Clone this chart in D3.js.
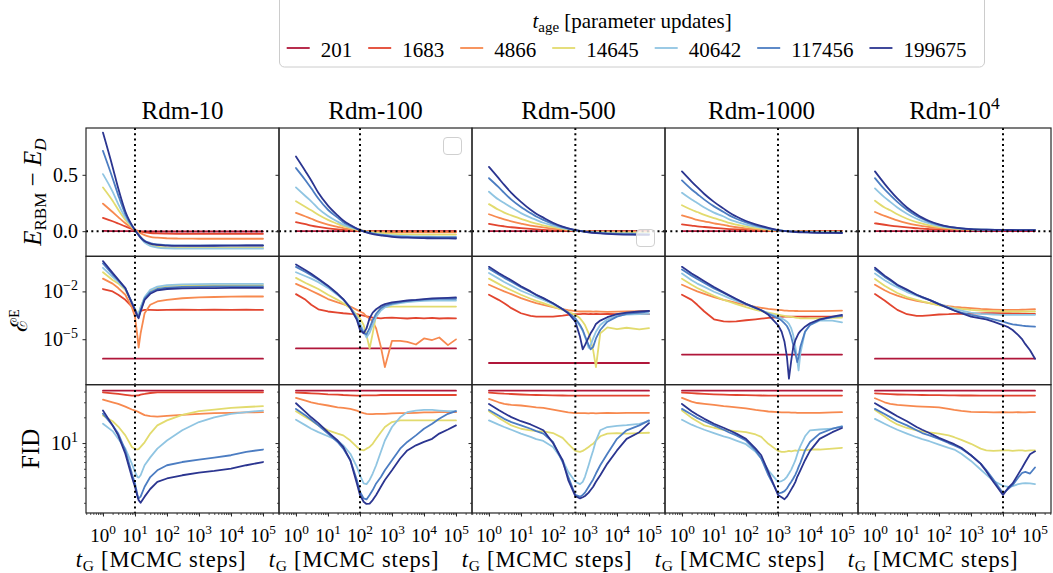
<!DOCTYPE html>
<html>
<head>
<meta charset="utf-8">
<script src="https://cdn.jsdelivr.net/npm/d3@7"></script>
<style>
  html, body { margin: 0; padding: 0; background: #fff; }
  svg { display: block; }
  text { font-family: "Liberation Serif", "Times New Roman", "DejaVu Serif", serif; fill: #000; }
</style>
</head>
<body>
<svg id="chart" width="1053" height="573"></svg>
<script>
// ---------------- data ----------------
// model age (parameter updates) and its line colour
const ages = [201, 1683, 4866, 14645, 40642, 117456, 199675];
const ageColors = ["#b0173a", "#e2452f", "#f7894f", "#e2db6e", "#90c5e2", "#4c7dc2", "#2b3590"];

// dataset names (base, optional exponent) and the training MCMC length t* of each
const datasetBase = ["Rdm-10", "Rdm-100", "Rdm-500", "Rdm-1000", "Rdm-10"];
const datasetExp  = ["", "", "", "", "4"];
const trainSteps  = [10, 100, 500, 1000, 10000];

// energy gap E_RBM - E_D, sampled at these MCMC steps (rows = ages)
const energySteps = [1, 2, 3, 5, 10, 20, 30, 50, 100, 200, 500, 1000, 3000, 10000, 30000, 100000];

const energy_rdm10 = [
  [0.002, 0.001, 0.001, 0.0, 0.0, -0.002, -0.003, -0.003, -0.003, -0.003, -0.003, -0.003, -0.003, -0.003, -0.003, -0.003],
  [0.118, 0.088, 0.068, 0.042, 0.01, -0.01, -0.016, -0.02, -0.022, -0.023, -0.023, -0.023, -0.023, -0.023, -0.023, -0.023],
  [0.244, 0.17, 0.125, 0.07, 0.01, -0.035, -0.05, -0.058, -0.063, -0.065, -0.066, -0.067, -0.067, -0.067, -0.067, -0.067],
  [0.388, 0.27, 0.19, 0.10, 0.01, -0.09, -0.12, -0.138, -0.145, -0.147, -0.148, -0.148, -0.148, -0.147, -0.147, -0.147],
  [0.506, 0.35, 0.24, 0.12, 0.01, -0.10, -0.13, -0.145, -0.152, -0.154, -0.155, -0.155, -0.155, -0.155, -0.155, -0.155],
  [0.712, 0.47, 0.32, 0.15, 0.01, -0.085, -0.105, -0.118, -0.124, -0.126, -0.127, -0.127, -0.127, -0.126, -0.126, -0.126],
  [0.874, 0.57, 0.38, 0.175, 0.01, -0.09, -0.11, -0.122, -0.128, -0.13, -0.13, -0.13, -0.129, -0.128, -0.127, -0.127]
];
const energy_rdm100 = [
  [0.0, 0.0, 0.0, 0.0, 0.0, 0.0, 0.0, 0.0, 0.0, 0.0, 0.0, 0.0, 0.0, 0.0, 0.0, 0.0],
  [0.08, 0.062, 0.05, 0.038, 0.025, 0.016, 0.012, 0.008, 0.004, 0.001, -0.001, -0.002, -0.002, -0.002, -0.002, -0.002],
  [0.162, 0.13, 0.11, 0.085, 0.058, 0.038, 0.027, 0.017, 0.006, -0.002, -0.006, -0.008, -0.01, -0.01, -0.01, -0.01],
  [0.265, 0.215, 0.185, 0.145, 0.10, 0.065, 0.045, 0.027, 0.008, -0.008, -0.018, -0.024, -0.028, -0.03, -0.03, -0.03],
  [0.388, 0.31, 0.265, 0.20, 0.135, 0.085, 0.058, 0.035, 0.01, -0.013, -0.03, -0.038, -0.045, -0.048, -0.05, -0.05],
  [0.56, 0.45, 0.38, 0.29, 0.19, 0.12, 0.08, 0.047, 0.01, -0.016, -0.034, -0.043, -0.05, -0.053, -0.055, -0.055],
  [0.662, 0.53, 0.45, 0.34, 0.227, 0.14, 0.095, 0.055, 0.01, -0.02, -0.04, -0.05, -0.058, -0.062, -0.064, -0.065]
];
const energy_rdm500 = [
  [0.0, 0.0, 0.0, 0.0, 0.0, 0.0, 0.0, 0.0, 0.0, 0.0, 0.0, 0.0, 0.0, 0.0, 0.0, 0.0],
  [0.065, 0.05, 0.043, 0.035, 0.027, 0.02, 0.016, 0.012, 0.008, 0.005, 0.002, 0.0, -0.001, -0.001, -0.001, -0.001],
  [0.15, 0.12, 0.105, 0.088, 0.068, 0.05, 0.042, 0.033, 0.022, 0.013, 0.004, 0.0, -0.004, -0.005, -0.006, -0.006],
  [0.24, 0.19, 0.165, 0.14, 0.11, 0.08, 0.066, 0.052, 0.035, 0.02, 0.006, -0.002, -0.008, -0.012, -0.013, -0.013],
  [0.35, 0.28, 0.25, 0.21, 0.16, 0.12, 0.10, 0.075, 0.05, 0.028, 0.008, -0.003, -0.013, -0.019, -0.021, -0.022],
  [0.47, 0.39, 0.34, 0.28, 0.215, 0.16, 0.13, 0.10, 0.065, 0.035, 0.01, -0.004, -0.017, -0.024, -0.027, -0.028],
  [0.57, 0.47, 0.41, 0.34, 0.26, 0.19, 0.155, 0.12, 0.075, 0.04, 0.01, -0.005, -0.02, -0.028, -0.031, -0.032]
];
const energy_rdm1000 = [
  [0.0, 0.0, 0.0, 0.0, 0.0, 0.0, 0.0, 0.0, 0.0, 0.0, 0.0, 0.0, 0.0, 0.0, 0.0, 0.0],
  [0.06, 0.05, 0.043, 0.037, 0.03, 0.023, 0.019, 0.015, 0.011, 0.008, 0.004, 0.002, 0.001, 0.0, 0.0, 0.0],
  [0.14, 0.115, 0.10, 0.088, 0.07, 0.055, 0.045, 0.035, 0.025, 0.017, 0.009, 0.003, 0.0, -0.002, -0.003, -0.003],
  [0.23, 0.19, 0.17, 0.145, 0.115, 0.09, 0.073, 0.058, 0.041, 0.028, 0.014, 0.005, -0.002, -0.005, -0.006, -0.007],
  [0.34, 0.28, 0.25, 0.21, 0.165, 0.13, 0.105, 0.083, 0.059, 0.04, 0.02, 0.007, -0.003, -0.008, -0.01, -0.011],
  [0.45, 0.37, 0.33, 0.28, 0.22, 0.17, 0.14, 0.11, 0.078, 0.052, 0.026, 0.009, -0.004, -0.01, -0.013, -0.014],
  [0.53, 0.44, 0.39, 0.33, 0.26, 0.20, 0.165, 0.13, 0.09, 0.06, 0.03, 0.01, -0.005, -0.012, -0.015, -0.016]
];
const energy_rdm10k = [
  [0.0, 0.0, 0.0, 0.0, 0.0, 0.0, 0.0, 0.0, 0.0, 0.0, 0.0, 0.0, 0.0, 0.0, 0.0, 0.0],
  [0.07, 0.057, 0.05, 0.042, 0.033, 0.026, 0.022, 0.019, 0.016, 0.014, 0.013, 0.012, 0.012, 0.012, 0.012, 0.012],
  [0.17, 0.135, 0.118, 0.096, 0.072, 0.054, 0.045, 0.037, 0.028, 0.021, 0.016, 0.014, 0.012, 0.011, 0.011, 0.011],
  [0.27, 0.21, 0.185, 0.15, 0.11, 0.08, 0.066, 0.052, 0.037, 0.027, 0.019, 0.015, 0.012, 0.011, 0.01, 0.01],
  [0.38, 0.30, 0.26, 0.21, 0.155, 0.11, 0.09, 0.07, 0.048, 0.033, 0.022, 0.017, 0.013, 0.011, 0.01, 0.01],
  [0.47, 0.37, 0.32, 0.26, 0.19, 0.135, 0.11, 0.083, 0.056, 0.038, 0.024, 0.018, 0.013, 0.011, 0.01, 0.01],
  [0.53, 0.42, 0.36, 0.29, 0.21, 0.15, 0.12, 0.09, 0.06, 0.04, 0.025, 0.018, 0.013, 0.011, 0.01, 0.009]
];

// energy error and FID, each dataset with its own MCMC step grid.
// error values are stored as log10 of the error.
const steps_rdm10 = [1, 2, 3, 5, 8, 10, 12, 13, 15, 20, 30, 50, 100, 300, 1000, 3000, 10000, 30000, 100000];
const logErr_rdm10 = [
  [-6.22, -6.22, -6.22, -6.22, -6.22, -6.22, -6.22, -6.22, -6.22, -6.22, -6.22, -6.22, -6.22, -6.22, -6.22, -6.22, -6.22, -6.22, -6.22],
  [-1.85, -2.0, -2.21, -2.53, -2.95, -3.26, -3.47, -3.37, -3.22, -3.16, -3.16, -3.17, -3.16, -3.15, -3.16, -3.15, -3.16, -3.15, -3.16],
  [-1.20, -1.51, -1.79, -2.21, -3.0, -3.58, -4.85, -5.52, -4.63, -3.37, -2.84, -2.63, -2.53, -2.43, -2.38, -2.35, -2.33, -2.32, -2.32],
  [-0.80, -1.28, -1.5, -1.9, -2.7, -3.1, -3.4, -3.4, -3.0, -2.4, -1.95, -1.75, -1.65, -1.62, -1.6, -1.6, -1.6, -1.6, -1.6],
  [-0.52, -1.09, -1.4, -1.85, -2.7, -3.1, -3.4, -3.4, -3.0, -2.35, -1.9, -1.7, -1.6, -1.56, -1.54, -1.53, -1.53, -1.53, -1.53],
  [-0.25, -0.94, -1.3, -1.8, -2.7, -3.15, -3.5, -3.6, -3.2, -2.45, -2.05, -1.85, -1.76, -1.72, -1.70, -1.69, -1.68, -1.68, -1.68],
  [-0.10, -0.84, -1.26, -1.79, -2.74, -3.16, -3.58, -3.69, -3.26, -2.53, -2.15, -1.93, -1.85, -1.81, -1.79, -1.79, -1.78, -1.78, -1.78]
];
const fid_rdm10 = [
  [41.0, 41.0, 41.0, 41.0, 41.0, 41.0, 41.0, 41.0, 41.0, 41.0, 41.0, 41.0, 41.0, 41.0, 41.0, 41.0, 41.0, 41.0, 41.0],
  [39.2, 38.2, 37.5, 36.6, 35.9, 35.9, 36.2, 36.2, 36.9, 37.5, 38.5, 39.2, 39.2, 39.2, 39.2, 39.2, 39.2, 39.2, 39.2],
  [32.2, 30.0, 28.7, 26.7, 24.7, 24.0, 23.4, 23.0, 22.4, 21.2, 20.6, 20.4, 20.8, 21.4, 22.0, 22.4, 22.6, 22.8, 23.0],
  [21.0, 18.0, 15.6, 12.3, 9.0, 8.5, 8.45, 8.5, 9.0, 10.2, 12.9, 16.1, 18.4, 21.4, 23.6, 24.6, 25.8, 26.4, 27.0],
  [16.8, 13.8, 11.2, 8.6, 5.75, 4.6, 4.0, 3.95, 4.2, 5.5, 6.8, 8.6, 10.7, 14.1, 17.6, 20.0, 22.0, 23.0, 24.0],
  [22.0, 16.1, 12.9, 8.2, 4.4, 3.37, 2.47, 2.25, 2.36, 3.08, 4.0, 4.8, 5.5, 6.0, 6.4, 6.76, 7.2, 7.9, 8.4],
  [24.0, 16.1, 12.3, 7.5, 4.0, 3.08, 2.36, 2.15, 2.0, 2.36, 2.9, 3.52, 3.85, 4.2, 4.5, 4.72, 5.03, 5.5, 6.0]
];

const steps_rdm100 = [1, 2, 3, 5, 10, 20, 30, 50, 80, 100, 130, 160, 200, 250, 320, 450, 600, 1000, 1800, 3000, 5600, 10000, 18000, 30000, 56000, 100000];
const logErr_rdm100 = [
  [-5.58, -5.58, -5.58, -5.58, -5.58, -5.58, -5.58, -5.58, -5.58, -5.58, -5.58, -5.58, -5.58, -5.58, -5.58, -5.58, -5.58, -5.58, -5.58, -5.58, -5.58, -5.58, -5.58, -5.58, -5.58, -5.58],
  [-2.17, -2.53, -2.84, -3.12, -3.26, -3.33, -3.37, -3.41, -3.43, -3.47, -3.52, -3.56, -3.60, -3.64, -3.66, -3.69, -3.66, -3.64, -3.67, -3.70, -3.66, -3.69, -3.66, -3.70, -3.68, -3.69],
  [-1.53, -1.79, -1.96, -2.17, -2.48, -2.69, -2.80, -2.95, -3.16, -3.26, -3.37, -3.58, -3.69, -3.90, -4.32, -5.48, -6.75, -5.10, -5.10, -5.16, -5.33, -4.95, -5.05, -4.89, -5.37, -5.01],
  [-1.15, -1.47, -1.64, -1.85, -2.21, -2.53, -2.74, -3.05, -3.47, -3.69, -4.11, -4.74, -5.58, -4.63, -3.47, -3.05, -2.99, -2.95, -2.95, -2.95, -2.95, -2.95, -2.95, -2.95, -2.95, -2.95],
  [-0.80, -1.05, -1.20, -1.42, -1.78, -2.22, -2.52, -3.0, -3.6, -4.0, -4.5, -4.89, -4.6, -4.1, -3.6, -3.2, -3.0, -2.83, -2.73, -2.67, -2.62, -2.60, -2.58, -2.57, -2.57, -2.57],
  [-0.46, -0.78, -0.98, -1.26, -1.68, -2.17, -2.5, -3.0, -3.7, -4.2, -4.6, -4.7, -4.3, -3.8, -3.4, -3.05, -2.9, -2.76, -2.67, -2.60, -2.55, -2.51, -2.49, -2.47, -2.46, -2.46],
  [-0.31, -0.67, -0.90, -1.20, -1.64, -2.15, -2.48, -3.05, -3.79, -4.42, -4.63, -4.32, -3.69, -3.33, -3.12, -2.91, -2.80, -2.69, -2.63, -2.57, -2.53, -2.48, -2.44, -2.42, -2.40, -2.38]
];
const fid_rdm100 = [
  [41.0, 41.0, 41.0, 41.0, 41.0, 41.0, 41.0, 41.0, 41.0, 41.0, 41.0, 41.0, 41.0, 41.0, 41.0, 41.0, 41.0, 41.0, 41.0, 41.0, 41.0, 41.0, 41.0, 41.0, 41.0, 41.0],
  [38.9, 38.5, 38.2, 37.9, 37.2, 36.9, 36.5, 36.2, 35.9, 35.9, 36.2, 36.2, 36.2, 36.2, 36.2, 36.5, 36.5, 36.5, 36.5, 36.5, 36.5, 36.5, 36.5, 36.5, 36.5, 36.5],
  [33.7, 31.3, 30.0, 28.7, 27.5, 26.2, 25.8, 25.1, 24.0, 23.0, 22.4, 22.0, 21.8, 21.8, 22.0, 22.0, 22.0, 22.2, 22.4, 22.4, 22.6, 22.8, 22.8, 23.0, 23.0, 23.0],
  [23.6, 20.0, 18.4, 16.1, 14.1, 12.9, 12.3, 10.7, 9.0, 8.4, 8.2, 8.6, 9.0, 9.8, 11.2, 13.4, 15.4, 17.6, 18.4, 18.4, 18.4, 18.4, 18.4, 18.4, 18.4, 18.4],
  [18.7, 16.1, 14.7, 13.4, 12.0, 10.7, 9.4, 7.5, 5.26, 4.2, 3.37, 3.31, 3.7, 4.4, 5.5, 7.9, 10.7, 15.4, 20.0, 23.0, 24.0, 24.4, 24.4, 24.0, 23.6, 23.6],
  [25.1, 21.0, 18.7, 16.1, 12.9, 10.3, 8.6, 6.3, 3.7, 2.69, 2.25, 2.19, 2.47, 2.82, 3.37, 4.0, 4.8, 6.3, 8.6, 10.3, 12.3, 14.7, 16.8, 19.2, 22.0, 23.6],
  [29.2, 23.0, 20.0, 17.1, 13.4, 10.7, 9.0, 6.3, 3.37, 2.47, 2.06, 1.94, 1.96, 2.15, 2.47, 3.08, 3.7, 4.8, 6.6, 8.2, 9.4, 10.3, 11.2, 12.9, 14.4, 16.1]
];

const steps_rdm500 = [1, 2, 3, 5, 10, 20, 30, 50, 100, 200, 300, 500, 700, 850, 1000, 1300, 1500, 1800, 2200, 3000, 5000, 10000, 20000, 50000, 100000];
const logErr_rdm500 = [
  [-6.49, -6.49, -6.49, -6.49, -6.49, -6.49, -6.49, -6.49, -6.49, -6.49, -6.49, -6.49, -6.49, -6.49, -6.49, -6.49, -6.49, -6.49, -6.49, -6.49, -6.49, -6.49, -6.49, -6.49, -6.49],
  [-2.21, -2.53, -2.74, -3.05, -3.37, -3.54, -3.58, -3.58, -3.58, -3.52, -3.47, -3.43, -3.42, -3.41, -3.41, -3.42, -3.41, -3.42, -3.41, -3.42, -3.41, -3.42, -3.42, -3.43, -3.43],
  [-1.58, -1.85, -2.00, -2.17, -2.42, -2.63, -2.74, -2.84, -2.99, -3.12, -3.18, -3.24, -3.26, -3.26, -3.26, -3.26, -3.26, -3.27, -3.26, -3.27, -3.28, -3.27, -3.26, -3.24, -3.22],
  [-1.20, -1.53, -1.72, -1.93, -2.21, -2.46, -2.59, -2.74, -2.95, -3.16, -3.28, -3.47, -3.69, -3.90, -4.11, -4.63, -5.06, -5.69, -6.75, -4.63, -4.26, -4.36, -4.28, -4.38, -4.30],
  [-0.84, -1.20, -1.41, -1.64, -1.96, -2.21, -2.36, -2.53, -2.80, -3.12, -3.37, -3.79, -4.17, -4.47, -4.85, -5.54, -5.37, -4.95, -4.53, -4.11, -3.75, -3.54, -3.45, -3.43, -3.41],
  [-0.58, -0.94, -1.15, -1.39, -1.74, -2.04, -2.23, -2.44, -2.74, -3.10, -3.33, -3.69, -4.11, -4.42, -4.80, -5.37, -5.63, -5.48, -4.95, -4.42, -3.90, -3.58, -3.41, -3.33, -3.26],
  [-0.46, -0.84, -1.05, -1.30, -1.68, -2.00, -2.21, -2.42, -2.74, -3.12, -3.37, -3.90, -4.85, -5.63, -5.37, -4.89, -4.63, -4.38, -4.04, -3.83, -3.62, -3.43, -3.33, -3.26, -3.22]
];
const fid_rdm500 = [
  [41.0, 41.0, 41.0, 41.0, 41.0, 41.0, 41.0, 41.0, 41.0, 41.0, 41.0, 41.0, 41.0, 41.0, 41.0, 41.0, 41.0, 41.0, 41.0, 41.0, 41.0, 41.0, 41.0, 41.0, 41.0],
  [38.8, 38.2, 37.8, 37.5, 37.0, 36.7, 36.5, 36.3, 36.1, 36.0, 35.9, 35.9, 35.9, 35.9, 35.9, 35.9, 35.9, 35.9, 35.9, 35.9, 35.9, 35.9, 35.9, 35.9, 35.9],
  [32.8, 30.0, 28.7, 27.9, 27.5, 26.7, 26.2, 25.8, 24.6, 23.4, 22.8, 22.4, 22.4, 22.4, 22.4, 22.3, 22.4, 22.4, 22.3, 22.4, 22.5, 22.4, 22.5, 22.6, 22.6],
  [23.6, 19.7, 18.0, 16.1, 14.7, 14.1, 13.8, 13.7, 13.1, 11.5, 9.8, 8.1, 7.9, 8.1, 8.4, 9.0, 9.4, 9.8, 10.7, 12.0, 12.9, 13.1, 12.9, 13.1, 13.2],
  [18.4, 16.4, 15.4, 14.3, 12.9, 11.8, 11.1, 10.6, 9.0, 6.3, 4.6, 3.52, 3.31, 3.52, 4.03, 5.5, 6.6, 8.2, 10.7, 14.1, 15.4, 15.9, 16.2, 16.8, 18.0],
  [24.4, 21.0, 19.2, 17.6, 16.1, 14.7, 13.8, 12.9, 10.3, 6.0, 4.03, 2.47, 2.36, 2.47, 2.63, 3.08, 3.37, 3.75, 4.4, 5.5, 7.5, 11.2, 14.1, 16.1, 18.4],
  [28.7, 24.4, 22.3, 20.1, 18.0, 16.5, 15.4, 14.1, 10.0, 6.3, 3.69, 2.40, 2.25, 2.32, 2.40, 2.63, 2.82, 3.08, 3.52, 4.21, 5.75, 8.2, 11.2, 13.4, 17.1]
];

const steps_rdm1000 = [1, 2, 3, 5, 10, 20, 30, 50, 100, 200, 300, 500, 1000, 1300, 1600, 1900, 2200, 2600, 3000, 3500, 4000, 4400, 5000, 7000, 10000, 20000, 50000, 100000];
const logErr_rdm1000 = [
  [-5.96, -5.96, -5.96, -5.96, -5.96, -5.96, -5.96, -5.96, -5.96, -5.96, -5.96, -5.96, -5.96, -5.96, -5.96, -5.96, -5.96, -5.96, -5.96, -5.96, -5.96, -5.96, -5.96, -5.96, -5.96, -5.96, -5.96, -5.96],
  [-2.21, -2.53, -2.84, -3.26, -3.75, -3.88, -3.90, -3.88, -3.81, -3.75, -3.71, -3.66, -3.62, -3.60, -3.58, -3.58, -3.58, -3.59, -3.58, -3.58, -3.59, -3.58, -3.58, -3.59, -3.58, -3.58, -3.58, -3.58],
  [-1.58, -1.85, -2.00, -2.15, -2.36, -2.53, -2.61, -2.72, -2.84, -2.97, -3.03, -3.10, -3.16, -3.18, -3.20, -3.20, -3.22, -3.22, -3.22, -3.23, -3.23, -3.24, -3.24, -3.24, -3.24, -3.24, -3.22, -3.20],
  [-1.20, -1.58, -1.79, -2.00, -2.27, -2.53, -2.65, -2.80, -2.99, -3.16, -3.24, -3.33, -3.45, -3.50, -3.54, -3.56, -3.58, -3.60, -3.62, -3.64, -3.66, -3.66, -3.69, -3.69, -3.69, -3.69, -3.66, -3.64],
  [-0.88, -1.30, -1.51, -1.72, -2.02, -2.27, -2.42, -2.59, -2.82, -3.05, -3.18, -3.37, -3.58, -3.69, -3.79, -3.90, -4.04, -4.32, -4.74, -5.48, -6.32, -6.96, -5.90, -4.53, -4.11, -3.83, -3.83, -3.94],
  [-0.63, -1.01, -1.22, -1.47, -1.81, -2.10, -2.27, -2.50, -2.78, -3.03, -3.18, -3.41, -3.69, -3.83, -4.00, -4.17, -4.42, -4.85, -5.37, -5.90, -6.43, -6.11, -5.48, -4.53, -4.11, -3.79, -3.62, -3.54],
  [-0.46, -0.88, -1.09, -1.36, -1.72, -2.06, -2.25, -2.48, -2.78, -3.03, -3.18, -3.47, -4.11, -4.53, -5.16, -6.11, -7.48, -6.32, -5.48, -5.06, -4.80, -4.63, -4.49, -4.21, -4.00, -3.75, -3.58, -3.47]
];
const fid_rdm1000 = [
  [41.0, 41.0, 41.0, 41.0, 41.0, 41.0, 41.0, 41.0, 41.0, 41.0, 41.0, 41.0, 41.0, 41.0, 41.0, 41.0, 41.0, 41.0, 41.0, 41.0, 41.0, 41.0, 41.0, 41.0, 41.0, 41.0, 41.0, 41.0],
  [38.8, 38.3, 38.0, 37.6, 37.2, 36.9, 36.7, 36.5, 36.3, 36.1, 36.0, 35.9, 35.9, 35.9, 35.9, 35.9, 35.9, 35.9, 35.9, 35.9, 35.9, 35.9, 35.9, 35.9, 35.9, 35.9, 35.9, 35.9],
  [33.7, 30.5, 29.4, 28.7, 27.9, 27.0, 26.7, 26.2, 25.5, 24.4, 24.0, 23.4, 23.0, 22.8, 22.8, 22.8, 22.8, 22.7, 22.7, 22.7, 22.6, 22.6, 22.6, 22.6, 22.6, 22.6, 22.8, 23.0],
  [24.0, 19.7, 18.0, 16.1, 15.1, 14.3, 14.1, 13.8, 13.4, 12.6, 11.8, 9.8, 8.1, 7.9, 7.9, 8.0, 8.1, 8.0, 8.1, 8.2, 8.1, 8.2, 8.3, 8.2, 8.4, 8.4, 8.6, 8.8],
  [18.7, 16.4, 15.4, 14.3, 13.1, 12.0, 11.5, 10.7, 9.7, 7.9, 6.6, 4.8, 3.52, 3.59, 3.75, 4.03, 4.4, 4.89, 5.5, 6.3, 7.4, 8.2, 9.2, 12.0, 14.1, 14.4, 14.7, 15.8],
  [25.1, 21.6, 19.7, 18.0, 16.1, 14.3, 13.3, 12.3, 10.7, 8.2, 6.6, 4.21, 2.58, 2.63, 2.74, 2.94, 3.22, 3.52, 3.85, 4.28, 4.8, 5.26, 5.86, 8.2, 10.3, 12.9, 14.7, 15.6],
  [28.7, 23.6, 21.4, 19.2, 16.8, 15.1, 14.1, 12.9, 11.2, 8.6, 7.2, 4.6, 2.47, 2.32, 2.20, 2.36, 2.58, 2.87, 3.14, 3.52, 4.03, 4.33, 4.8, 6.3, 8.1, 11.2, 13.4, 15.0]
];

const steps_rdm10k = [1, 2, 3, 5, 10, 20, 30, 50, 100, 200, 300, 500, 1000, 2000, 3000, 5000, 10000, 15000, 20000, 30000, 40000, 50000, 70000, 100000];
const logErr_rdm10k = [
  [-6.22, -6.22, -6.22, -6.22, -6.22, -6.22, -6.22, -6.22, -6.22, -6.22, -6.22, -6.22, -6.22, -6.22, -6.22, -6.22, -6.22, -6.22, -6.22, -6.22, -6.22, -6.22, -6.22, -6.22],
  [-2.17, -2.57, -2.84, -3.16, -3.43, -3.54, -3.54, -3.50, -3.45, -3.43, -3.41, -3.41, -3.39, -3.38, -3.37, -3.37, -3.37, -3.37, -3.38, -3.38, -3.39, -3.40, -3.41, -3.41],
  [-1.58, -1.93, -2.10, -2.27, -2.46, -2.59, -2.65, -2.74, -2.84, -2.93, -2.97, -3.01, -3.05, -3.10, -3.12, -3.14, -3.16, -3.16, -3.16, -3.16, -3.15, -3.14, -3.13, -3.12],
  [-1.22, -1.64, -1.85, -2.10, -2.36, -2.53, -2.63, -2.74, -2.88, -2.99, -3.05, -3.10, -3.16, -3.20, -3.22, -3.24, -3.26, -3.26, -3.26, -3.26, -3.26, -3.26, -3.26, -3.26],
  [-0.88, -1.30, -1.51, -1.74, -2.04, -2.27, -2.40, -2.53, -2.78, -2.99, -3.10, -3.20, -3.33, -3.41, -3.43, -3.45, -3.47, -3.47, -3.47, -3.47, -3.47, -3.47, -3.47, -3.47],
  [-0.63, -1.09, -1.32, -1.62, -1.93, -2.21, -2.36, -2.53, -2.80, -3.05, -3.20, -3.33, -3.47, -3.58, -3.64, -3.75, -3.90, -4.00, -4.07, -4.11, -4.15, -4.17, -4.19, -4.21],
  [-0.52, -1.01, -1.26, -1.58, -1.89, -2.21, -2.36, -2.53, -2.80, -3.05, -3.20, -3.37, -3.58, -3.69, -3.75, -3.90, -4.11, -4.26, -4.42, -4.74, -5.01, -5.31, -5.69, -6.22]
];
const fid_rdm10k = [
  [41.0, 41.0, 41.0, 41.0, 41.0, 41.0, 41.0, 41.0, 41.0, 41.0, 41.0, 41.0, 41.0, 41.0, 41.0, 41.0, 41.0, 41.0, 41.0, 41.0, 41.0, 41.0, 41.0, 41.0],
  [38.2, 37.6, 37.3, 37.0, 36.8, 36.6, 36.5, 36.4, 36.3, 36.2, 36.1, 36.0, 36.0, 35.9, 35.9, 35.9, 35.9, 35.9, 35.9, 35.9, 35.9, 35.9, 35.9, 35.9],
  [33.4, 30.0, 28.7, 27.9, 27.4, 26.9, 26.7, 26.5, 26.2, 25.1, 24.4, 23.8, 23.2, 23.0, 23.0, 22.8, 23.0, 22.8, 22.8, 23.0, 22.8, 22.8, 23.0, 23.0],
  [24.4, 20.4, 18.4, 16.5, 15.0, 14.1, 13.7, 13.3, 12.9, 12.3, 11.7, 10.9, 9.8, 8.6, 8.2, 8.1, 8.2, 8.2, 8.1, 8.2, 8.2, 8.1, 8.2, 8.2],
  [19.2, 16.8, 15.6, 14.3, 12.9, 11.7, 11.1, 10.5, 9.6, 8.8, 8.4, 7.5, 6.18, 4.9, 4.28, 3.61, 3.16, 3.08, 3.14, 3.31, 3.37, 3.39, 3.37, 3.31],
  [25.1, 21.9, 20.1, 18.0, 16.1, 14.1, 13.1, 12.3, 11.2, 10.0, 9.4, 8.6, 7.2, 5.75, 4.82, 3.75, 2.58, 2.94, 3.22, 3.96, 4.49, 4.6, 4.4, 5.17],
  [29.2, 25.1, 23.0, 20.6, 18.0, 15.4, 14.3, 13.1, 11.5, 10.3, 9.7, 8.8, 7.2, 5.75, 4.69, 3.52, 2.47, 3.03, 3.37, 4.33, 5.17, 6.0, 7.4, 8.0]
];

// axis ticks
const xMajorTicks = [1, 10, 100, 1000, 10000, 100000];
const energyTicks = [0.0, 0.5];
const errTicks = [1e-2, 1e-5];
const fidTicks = [10];

// ---------------- layout ----------------
const panels = [
  { steps: steps_rdm10,   energy: energy_rdm10,   logErr: logErr_rdm10,   fid: fid_rdm10 },
  { steps: steps_rdm100,  energy: energy_rdm100,  logErr: logErr_rdm100,  fid: fid_rdm100 },
  { steps: steps_rdm500,  energy: energy_rdm500,  logErr: logErr_rdm500,  fid: fid_rdm500 },
  { steps: steps_rdm1000, energy: energy_rdm1000, logErr: logErr_rdm1000, fid: fid_rdm1000 },
  { steps: steps_rdm10k,  energy: energy_rdm10k,  logErr: logErr_rdm10k,  fid: fid_rdm10k }
];

const svg = d3.select("#chart");
const LEFT = 86, COLW = 193, TOP = 128, ROWH = 128.33;
const LINE_W = 1.8;
const FRAME = "#262626";

function rowTop(r) { return TOP + r * ROWH; }

function yScaleFor(r) {
  const range = [rowTop(r) + ROWH, rowTop(r)];
  if (r === 0) return d3.scaleLinear().domain([-0.223, 0.915]).range(range);
  if (r === 1) return d3.scaleLog().domain([Math.pow(10, -7.85), Math.pow(10, 0.2)]).range(range);
  return d3.scaleLog().domain([1.52, 48.2]).range(range);
}
const yScales = [0, 1, 2].map(yScaleFor);

function minorLogTicks(lo, hi) {
  const out = [];
  for (let e = Math.floor(Math.log10(lo)); e <= Math.ceil(Math.log10(hi)); e++) {
    for (let m = 2; m <= 9; m++) {
      const v = m * Math.pow(10, e);
      if (v >= lo && v <= hi) out.push(v);
    }
  }
  return out;
}

// superscript helper: base text followed by a raised exponent
function addPow(textSel, base, exp, size) {
  textSel.append("tspan").text(base);
  if (exp) textSel.append("tspan").attr("dy", -0.42 * size).attr("font-size", size * 0.7).text(exp);
}

const defs = svg.append("defs");

panels.forEach((p, c) => {
  const x0 = LEFT + c * COLW;
  const x = d3.scaleLog().domain([Math.pow(10, -0.53), Math.pow(10, 5.5)]).range([x0, x0 + COLW]);

  const rows = [
    { steps: energySteps, series: p.energy, curve: d3.curveMonotoneX, tf: v => v },
    { steps: p.steps, series: p.logErr, curve: d3.curveLinear, tf: v => Math.pow(10, v) },
    { steps: p.steps, series: p.fid, curve: d3.curveLinear, tf: v => v }
  ];

  rows.forEach((row, r) => {
    const y = yScales[r];
    const yTop = rowTop(r);
    const clipId = `clip-${c}-${r}`;
    defs.append("clipPath").attr("id", clipId)
      .append("rect").attr("x", x0).attr("y", yTop).attr("width", COLW).attr("height", ROWH);

    const g = svg.append("g").attr("clip-path", `url(#${clipId})`);
    const line = d3.line().curve(row.curve)
      .x(d => x(d[0])).y(d => y(d[1]));

    row.series.forEach((vals, i) => {
      const pts = row.steps.map((s, j) => [s, row.tf(vals[j])]);
      g.append("path").datum(pts)
        .attr("d", line)
        .attr("fill", "none")
        .attr("stroke", ageColors[i])
        .attr("stroke-width", LINE_W)
        .attr("stroke-linejoin", "round")
        .attr("stroke-linecap", "round");
    });

    // training length marker
    g.append("line")
      .attr("x1", x(trainSteps[c])).attr("x2", x(trainSteps[c]))
      .attr("y1", yTop).attr("y2", yTop + ROWH)
      .attr("stroke", "#000").attr("stroke-width", 2).attr("stroke-dasharray", "2,3.3");
    if (r === 0) {
      g.append("line")
        .attr("x1", x0).attr("x2", x0 + COLW)
        .attr("y1", y(0)).attr("y2", y(0))
        .attr("stroke", "#000").attr("stroke-width", 2).attr("stroke-dasharray", "2,3.3");
    }

    // y ticks (outward, left)
    const yMajor = r === 0 ? energyTicks : (r === 1 ? errTicks : fidTicks);
    const yAxis = d3.axisLeft(y).tickValues(yMajor).tickSize(3.5).tickFormat("");
    const ga = svg.append("g").attr("transform", `translate(${x0},0)`).call(yAxis);
    ga.select(".domain").remove();
    ga.selectAll(".tick line").attr("stroke", FRAME).attr("stroke-width", 1);
    if (r === 2) {
      const yMinor = d3.axisLeft(y).tickValues(minorLogTicks(1.52, 48.2)).tickSize(2).tickFormat("");
      const gm = svg.append("g").attr("transform", `translate(${x0},0)`).call(yMinor);
      gm.select(".domain").remove();
      gm.selectAll(".tick line").attr("stroke", FRAME).attr("stroke-width", 0.8);
    }

    // y tick labels on the first column only
    if (c === 0) {
      yMajor.forEach(v => {
        const t = svg.append("text")
          .attr("x", 78).attr("y", y(v) + 7)
          .attr("text-anchor", "end").attr("font-size", 20);
        if (r === 0) t.text(d3.format(".1f")(v));
        else addPow(t, "10", r === 1 ? "\u2212" + Math.round(-Math.log10(v)) : String(Math.round(Math.log10(v))), 20);
      });
    }

    // frame
    svg.append("rect")
      .attr("x", x0).attr("y", yTop).attr("width", COLW).attr("height", ROWH)
      .attr("fill", "none").attr("stroke", FRAME).attr("stroke-width", 1.2);
  });

  // x axis at the bottom of the column
  const yBottom = rowTop(3);
  const xAxis = d3.axisBottom(x).tickValues(xMajorTicks).tickSize(3.5).tickFormat("");
  const gx = svg.append("g").attr("transform", `translate(0,${yBottom})`).call(xAxis);
  gx.select(".domain").remove();
  gx.selectAll(".tick line").attr("stroke", FRAME).attr("stroke-width", 1);
  const xMinor = d3.axisBottom(x).tickValues(minorLogTicks(Math.pow(10, -0.53), Math.pow(10, 5.5))).tickSize(2).tickFormat("");
  const gxm = svg.append("g").attr("transform", `translate(0,${yBottom})`).call(xMinor);
  gxm.select(".domain").remove();
  gxm.selectAll(".tick line").attr("stroke", FRAME).attr("stroke-width", 0.8);

  xMajorTicks.forEach(v => {
    const t = svg.append("text")
      .attr("x", x(v)).attr("y", 541.5)
      .attr("text-anchor", "middle").attr("font-size", 19);
    addPow(t, "10", String(Math.round(Math.log10(v))), 19);
  });

  // x axis label
  const xl = svg.append("text")
    .attr("x", 161 + c * COLW).attr("y", 567)
    .attr("text-anchor", "middle").attr("font-size", 22.5).attr("letter-spacing", 0.8);
  xl.append("tspan").attr("font-style", "italic").text("t");
  xl.append("tspan").attr("font-size", 15.5).attr("dy", 4).text("G");
  xl.append("tspan").attr("dy", -4).text(" [MCMC steps]");

  // column title
  const tt = svg.append("text")
    .attr("x", x0 + COLW / 2).attr("y", 119)
    .attr("text-anchor", "middle").attr("font-size", 25);
  addPow(tt, datasetBase[c], datasetExp[c], 25);
});

// empty legend frames left inside two panels
[[443.5, 137.5], [636.5, 229.5]].forEach(([bx, by]) => {
  svg.append("rect").attr("x", bx).attr("y", by).attr("width", 18).attr("height", 17).attr("rx", 3.5)
    .attr("fill", "#fff").attr("fill-opacity", 0.8).attr("stroke", "#d0d0d0").attr("stroke-width", 1);
});

// row labels
function rotLabel(xp, yp) {
  return svg.append("text")
    .attr("transform", `translate(${xp},${yp}) rotate(-90)`)
    .attr("text-anchor", "middle").attr("font-size", 25);
}
const l0 = rotLabel(41, rowTop(0) + ROWH / 2);
l0.append("tspan").attr("font-style", "italic").text("E");
l0.append("tspan").attr("font-size", 17).attr("dy", 5).text("RBM");
l0.append("tspan").attr("dy", -5).text(" \u2212 ");
l0.append("tspan").attr("font-style", "italic").text("E");
l0.append("tspan").attr("font-size", 17).attr("dy", 5).attr("font-style", "italic").text("D");

const l1 = rotLabel(27, rowTop(1) + ROWH / 2).attr("font-size", 23);
l1.append("tspan").text("\u2130");
l1.append("tspan").attr("font-size", 14).attr("dy", -8).text("E");

rotLabel(39, rowTop(2) + ROWH / 2).text("FID");

// ---------------- legend ----------------
const lg = svg.append("g");
lg.append("rect").attr("x", 279.5).attr("y", -6).attr("width", 705).attr("height", 73).attr("rx", 5)
  .attr("fill", "#fff").attr("stroke", "#cccccc").attr("stroke-width", 1);
const lt = lg.append("text").attr("x", 632).attr("y", 28).attr("text-anchor", "middle").attr("font-size", 21);
lt.append("tspan").attr("font-style", "italic").text("t");
lt.append("tspan").attr("font-size", 15).attr("dy", 4).text("age");
lt.append("tspan").attr("dy", -4).text(" [parameter updates]");

let lx = 286.7;
ages.forEach((a, i) => {
  lg.append("line").attr("x1", lx).attr("x2", lx + 23).attr("y1", 48).attr("y2", 48)
    .attr("stroke", ageColors[i]).attr("stroke-width", LINE_W);
  const t = lg.append("text").attr("x", lx + 34).attr("y", 57).attr("font-size", 21).text(a);
  lx += 34 + t.node().getComputedTextLength() + 16;
});
</script>
</body>
</html>
